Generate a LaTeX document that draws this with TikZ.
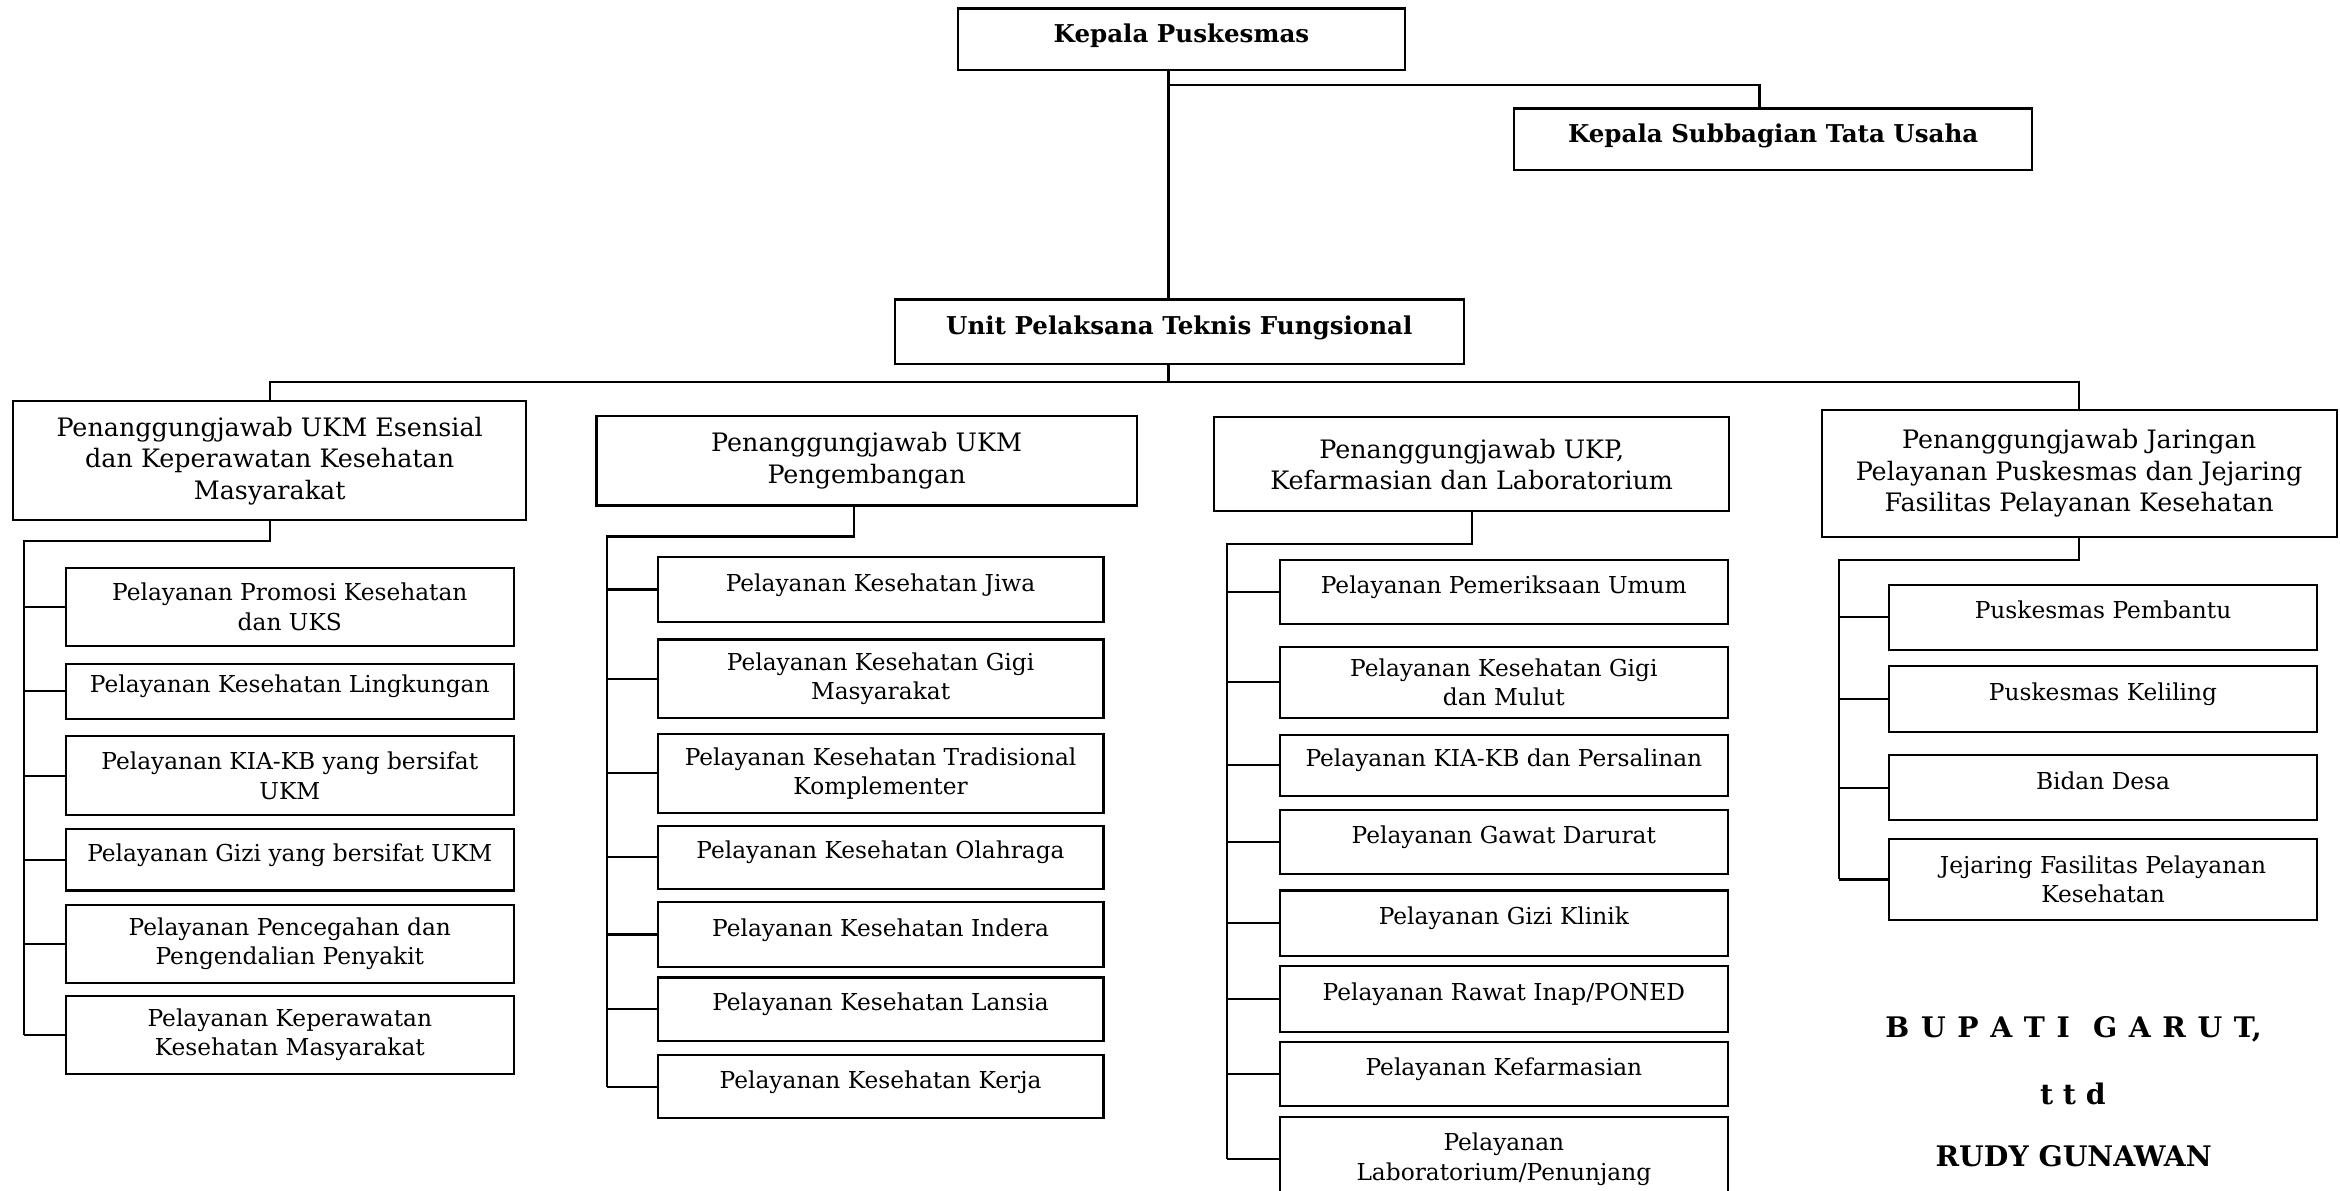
\documentclass[tikz,border=0pt]{standalone}
\usepackage{fontspec}
\setmainfont{DejaVu Serif}

\newdimen\pxu
\pxu=0.025cm

\begin{document}
\begin{tikzpicture}[x=0.025cm, y=-0.025cm, line width=1pt,
    box/.style={draw, anchor=north west, inner sep=0pt, align=center},
    chief/.style={box, font=\fontsize{11.7}{13.5}\selectfont\bfseries, text height=0.75em, text depth=0.45em},
    resp/.style={box, font=\fontsize{12.1}{15}\selectfont},
    svc/.style={box, font=\fontsize{11.1}{14}\selectfont},
    one/.style={text height=0.75em, text depth=0.6em},
    two/.style={},
    sign/.style={font=\fontsize{13.5}{15}\selectfont\bfseries}]

\useasboundingbox (0,0) rectangle (1568,798);

% top level
\node[chief, minimum width=300*\pxu, minimum height=41*\pxu] (kepala) at (641,5) {Kepala Puskesmas};
\node[chief, minimum width=347*\pxu, minimum height=41*\pxu] (subbag) at (1014,72) {Kepala Subbagian Tata Usaha};
\node[chief, minimum width=381*\pxu, minimum height=43*\pxu] (unit) at (599,200) {Unit Pelaksana Teknis Fungsional};

\coordinate (trunk) at (783,0);
\coordinate (tu) at (1179,57);
\draw (trunk |- kepala.south) -- (trunk |- unit.north);
\draw (trunk |- tu) -- (tu) -- (tu |- subbag.north);

% penanggungjawab
\node[resp, minimum width=344*\pxu, minimum height=80*\pxu] (esensial) at (8,268)
    {Penanggungjawab UKM Esensial\\dan Keperawatan Kesehatan\\Masyarakat};
\node[resp, minimum width=362*\pxu, minimum height=60*\pxu] (peng) at (399,278)
    {Penanggungjawab UKM\\Pengembangan};
\node[resp, minimum width=345*\pxu, minimum height=63*\pxu] (ukp) at (813,279)
    {Penanggungjawab UKP,\\Kefarmasian dan Laboratorium};
\node[resp, minimum width=345*\pxu, minimum height=85*\pxu] (jaringan) at (1220,274)
    {Penanggungjawab Jaringan\\Pelayanan Puskesmas dan Jejaring\\Fasilitas Pelayanan Kesehatan};

\coordinate (bar) at (783,256);
\draw (trunk |- unit.south) -- (bar);
\draw (esensial.north) |- (bar) -| (jaringan.north);

% UKM esensial
\foreach \n/\y/\h/\s/\t in {
    1/380/52/two/{Pelayanan Promosi Kesehatan\\dan UKS},
    2/444/37/one/{Pelayanan Kesehatan Lingkungan},
    3/492.6/53/two/{Pelayanan KIA-KB yang bersifat\\UKM},
    4/555/41/one/{Pelayanan Gizi yang bersifat UKM},
    5/605.6/52.5/two/{Pelayanan Pencegahan dan\\Pengendalian Penyakit},
    6/666.6/52.5/two/{Pelayanan Keperawatan\\Kesehatan Masyarakat}}
  \node[svc, \s, minimum width=300*\pxu, minimum height=\h*\pxu] (a\n) at (43.5,\y) {\t};

\coordinate (sa) at (16,362.5);
\draw (esensial.south) |- (sa) -- (sa |- a6.west);
\foreach \n in {1,...,6}
  \draw (sa |- a\n.west) -- (a\n.west);

% UKM pengembangan
\foreach \n/\y/\h/\s/\t in {
    1/372.6/43.4/one/{Pelayanan Kesehatan Jiwa},
    2/427.8/52.4/two/{Pelayanan Kesehatan Gigi\\Masyarakat},
    3/491/53/two/{Pelayanan Kesehatan Tradisional\\Komplementer},
    4/552.6/42.4/one/{Pelayanan Kesehatan Olahraga},
    5/604/43/one/{Pelayanan Kesehatan Indera},
    6/654.3/42.7/one/{Pelayanan Kesehatan Lansia},
    7/706.3/42.3/one/{Pelayanan Kesehatan Kerja}}
  \node[svc, \s, minimum width=298.7*\pxu, minimum height=\h*\pxu] (b\n) at (440,\y) {\t};

\coordinate (db) at (572,0);
\coordinate (sb) at (406.6,359.5);
\draw (db |- peng.south) |- (sb) -- (sb |- b7.west);
\foreach \n in {1,...,7}
  \draw (sb |- b\n.west) -- (b\n.west);

% UKP
\foreach \n/\y/\h/\s/\t in {
    1/374.6/43/one/{Pelayanan Pemeriksaan Umum},
    2/432.7/47.6/two/{Pelayanan Kesehatan Gigi\\dan Mulut},
    3/491.5/41.3/one/{Pelayanan KIA-KB dan Persalinan},
    4/541.9/43.1/one/{Pelayanan Gawat Darurat},
    5/596/44/one/{Pelayanan Gizi Klinik},
    6/646.7/44/one/{Pelayanan Rawat Inap/PONED},
    7/697.4/43.3/one/{Pelayanan Kefarmasian},
    8/748/56/two/{Pelayanan\\Laboratorium/Penunjang}}
  \node[svc, \s, minimum width=300*\pxu, minimum height=\h*\pxu] (c\n) at (857,\y) {\t};

\coordinate (sc) at (822,364.4);
\draw (ukp.south) |- (sc) -- (sc |- c8.west);
\foreach \n in {1,...,8}
  \draw (sc |- c\n.west) -- (c\n.west);

% jaringan
\foreach \n/\y/\h/\s/\t in {
    1/391/44/one/{Puskesmas Pembantu},
    2/445.6/44.1/one/{Puskesmas Keliling},
    3/505.3/43.6/one/{Bidan Desa},
    4/561.4/54.4/two/{Jejaring Fasilitas Pelayanan\\Kesehatan}}
  \node[svc, \s, minimum width=287*\pxu, minimum height=\h*\pxu] (d\n) at (1265,\y) {\t};

\coordinate (sd) at (1232.3,375);
\draw (jaringan.south) |- (sd) -- (sd |- d4.west);
\foreach \n in {1,...,4}
  \draw (sd |- d\n.west) -- (d\n.west);

% tanda tangan
\node[sign] (bupati) at (1389.5,690) {\spaceskip=0.41em B U P A T I \ G A R U T,};
\node[sign] (ttd) at (1389,733) {t t d};
\node[sign] (rudy) at (1389.6,774.5) {RUDY GUNAWAN};
\end{tikzpicture}
\end{document}
